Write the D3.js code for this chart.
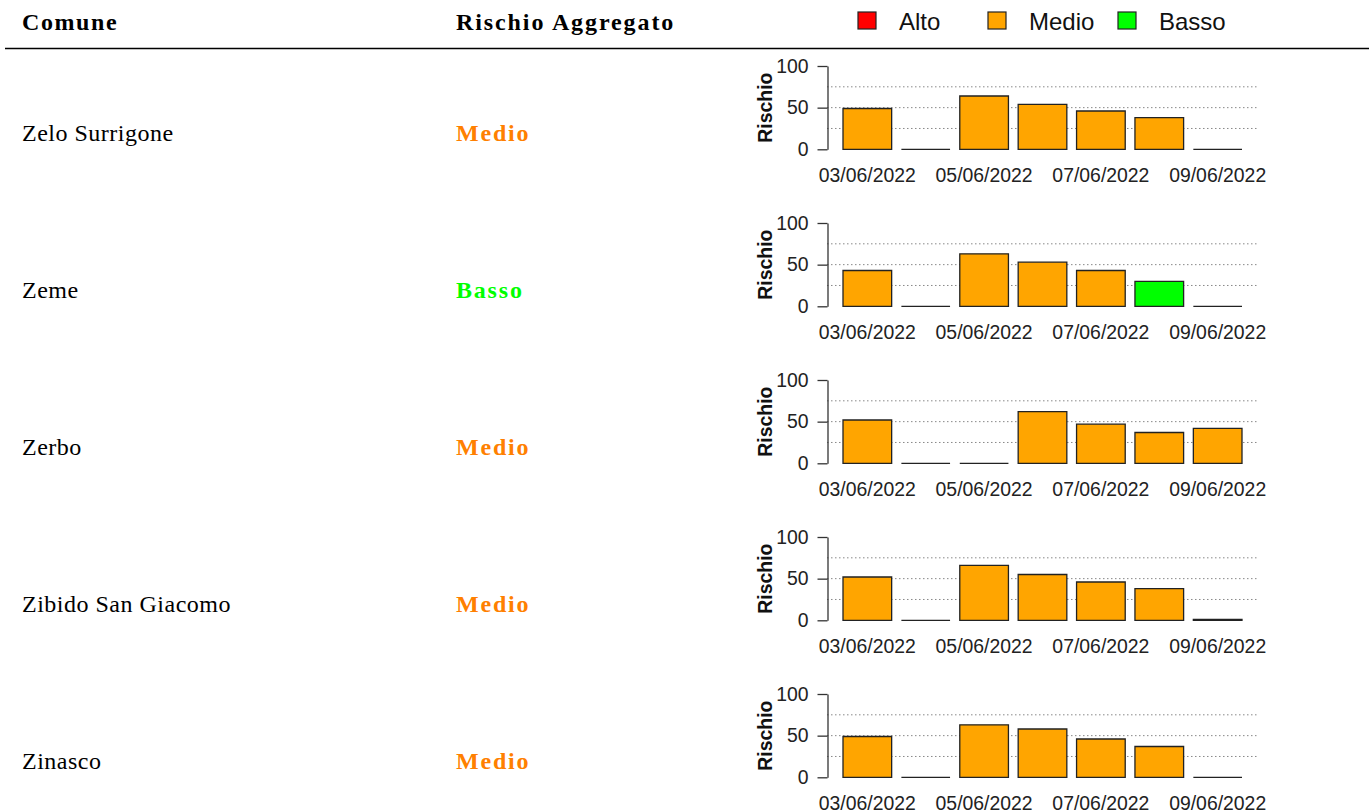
<!DOCTYPE html>
<html>
<head>
<meta charset="utf-8">
<script src="https://cdn.jsdelivr.net/npm/d3@7"></script>
<style>
  body { margin: 0; background: #fff; }
  svg { display: block; }
</style>
</head>
<body>
<div id="chart"></div>
<script>
const comuni = ['Zelo Surrigone', 'Zeme', 'Zerbo', 'Zibido San Giacomo', 'Zinasco'];
const aggregato = ['Medio', 'Basso', 'Medio', 'Medio', 'Medio'];
const dates = ['03/06/2022', '04/06/2022', '05/06/2022', '06/06/2022', '07/06/2022', '08/06/2022', '09/06/2022'];
const dateLabels = ['03/06/2022', '05/06/2022', '07/06/2022', '09/06/2022'];

const rischio = [
    [49, 0, 64, 54, 46, 38, 0],
    [43, 0, 63, 53, 43, 30, 0],
    [52, 0, 0, 62, 47, 37, 42],
    [52, 0, 66, 55, 46, 38, 1],
    [49, 0, 63, 58, 46, 37, 0]
];
const livelli = [
    ['Medio', 'Medio', 'Medio', 'Medio', 'Medio', 'Medio', 'Medio'],
    ['Medio', 'Medio', 'Medio', 'Medio', 'Medio', 'Basso', 'Medio'],
    ['Medio', 'Medio', 'Medio', 'Medio', 'Medio', 'Medio', 'Medio'],
    ['Medio', 'Medio', 'Medio', 'Medio', 'Medio', 'Medio', 'Medio'],
    ['Medio', 'Medio', 'Medio', 'Medio', 'Medio', 'Medio', 'Medio']
];

const legendLevels = ['Alto', 'Medio', 'Basso'];
const barColors = {Alto: '#ff0000', Medio: '#ffa500', Basso: '#00ff00'};
const textColors = {Alto: '#ff0000', Medio: '#ff8000', Basso: '#00ff00'};

const width = 1369;
const height = 812;

const svg = d3.select('#chart')
    .append('svg')
    .attr('width', width)
    .attr('height', height);

const serif = '"Liberation Serif", "Times New Roman", serif';
const sans = '"Liberation Sans", Arial, sans-serif';

// header
svg.append('text')
    .attr('x', 22).attr('y', 30)
    .attr('font-family', serif).attr('font-weight', 'bold')
    .attr('font-size', 24).attr('letter-spacing', 1.6)
    .text('Comune');

svg.append('text')
    .attr('x', 456).attr('y', 30)
    .attr('font-family', serif).attr('font-weight', 'bold')
    .attr('font-size', 24).attr('letter-spacing', 1.9)
    .text('Rischio Aggregato');

svg.append('line')
    .attr('x1', 5).attr('x2', width)
    .attr('y1', 48.5).attr('y2', 48.5)
    .attr('stroke', '#000').attr('stroke-width', 1.4);

// legend
const legendX = d3.scalePoint().domain(legendLevels).range([858, 1118]);
const legend = svg.append('g');
legendLevels.forEach(function (l) {
    legend.append('rect')
        .attr('x', legendX(l)).attr('y', 12)
        .attr('width', 18).attr('height', 17)
        .attr('fill', barColors[l])
        .attr('stroke', '#222').attr('stroke-width', 1.2);
    legend.append('text')
        .attr('x', legendX(l) + 41).attr('y', 29.5)
        .attr('font-family', sans).attr('font-size', 24)
        .attr('fill', '#111')
        .text(l);
});

// rows
const rowStep = 157;
const zero0 = 149.3;

const x = d3.scaleBand()
    .domain(dates)
    .range([843, 1242])
    .paddingInner(0.2 / 1.2)
    .paddingOuter(0);

comuni.forEach(function (comune, i) {
    const y0 = zero0 + i * rowStep;

    svg.append('text')
        .attr('x', 22).attr('y', y0 - 8)
        .attr('font-family', serif).attr('font-size', 24)
        .attr('letter-spacing', 0.5)
        .text(comune);

    svg.append('text')
        .attr('x', 456).attr('y', y0 - 8)
        .attr('font-family', serif).attr('font-weight', 'bold')
        .attr('font-size', 24).attr('letter-spacing', 1.8)
        .attr('fill', textColors[aggregato[i]])
        .text(aggregato[i]);

    const y = d3.scaleLinear()
        .domain([0, 100])
        .range([y0, y0 - 83.3]);

    const g = svg.append('g');

    // dotted grid
    g.selectAll('.grid')
        .data([25, 50, 75])
        .join('line')
        .attr('x1', 827).attr('x2', 1258)
        .attr('y1', d => y(d)).attr('y2', d => y(d))
        .attr('stroke', '#888').attr('stroke-width', 1)
        .attr('stroke-dasharray', '1.5,2.5');

    // bars
    const bars = dates.map((d, j) => ({date: d, value: rischio[i][j], level: livelli[i][j]}));
    g.selectAll('.bar')
        .data(bars)
        .join('path')
        .attr('d', function (d) {
            const bx = x(d.date);
            const bw = x.bandwidth();
            return `M${bx},${y(0)}V${y(d.value)}H${bx + bw}V${y(0)}Z`;
        })
        .attr('fill', d => barColors[d.level])
        .attr('stroke', '#222')
        .attr('stroke-width', 1.3);

    // y axis
    const yAxis = d3.axisLeft(y)
        .tickValues([0, 50, 100])
        .tickSize(10)
        .tickSizeOuter(0)
        .tickPadding(9);

    const ya = g.append('g')
        .attr('transform', 'translate(827.5,0)')
        .call(yAxis);
    ya.select('.domain').attr('stroke', '#333').attr('stroke-width', 1.3);
    ya.selectAll('.tick line').attr('stroke', '#333').attr('stroke-width', 1.3);
    ya.selectAll('.tick text')
        .attr('font-family', sans).attr('font-size', 19.4)
        .attr('fill', '#222');

    // x axis
    const xAxis = d3.axisBottom(x)
        .tickValues(dateLabels)
        .tickSize(0)
        .tickPadding(18.5);

    const xa = g.append('g')
        .attr('transform', `translate(0,${y0})`)
        .call(xAxis);
    xa.select('.domain').remove();
    xa.selectAll('.tick text')
        .attr('font-family', sans).attr('font-size', 19.4)
        .attr('fill', '#222');

    // axis title
    g.append('text')
        .attr('transform', `translate(771.5,${y(50)}) rotate(-90)`)
        .attr('text-anchor', 'middle')
        .attr('font-family', sans).attr('font-weight', 'bold')
        .attr('font-size', 19.4)
        .attr('fill', '#111')
        .text('Rischio');
});
</script>
</body>
</html>
